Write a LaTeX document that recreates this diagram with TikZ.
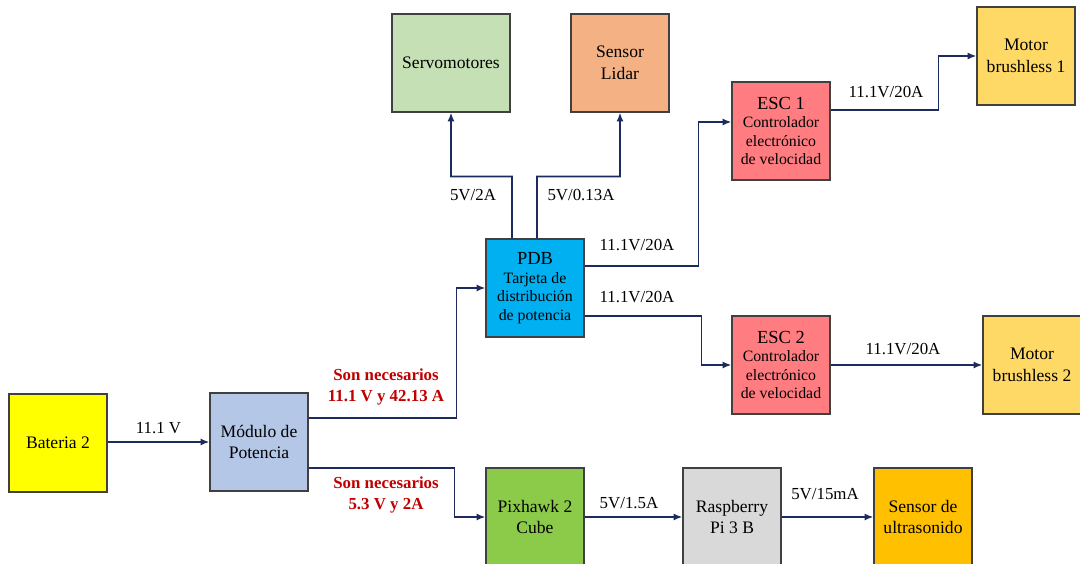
\documentclass[tikz,border=0pt]{standalone}
\usepackage{fontspec}
\setmainfont{Liberation Serif}
\usetikzlibrary{arrows.meta}

\definecolor{wire}{HTML}{1C2A5E}
\definecolor{reqred}{HTML}{C00000}
\definecolor{batfill}{HTML}{FFFF00}
\definecolor{modfill}{HTML}{B4C7E7}
\definecolor{pdbfill}{HTML}{00B0F0}
\definecolor{servofill}{HTML}{C5E0B4}
\definecolor{lidarfill}{HTML}{F4B183}
\definecolor{escfill}{HTML}{FF7C80}
\definecolor{motfill}{HTML}{FFD966}
\definecolor{pixfill}{HTML}{8CCB4A}
\definecolor{rpifill}{HTML}{D9D9D9}
\definecolor{usfill}{HTML}{FFC000}

\newcommand{\headtxt}[1]{{\fontsize{10.5}{10.5}\selectfont #1}}

\begin{document}
\begin{tikzpicture}[x=0.02cm,y=-0.02cm,
  blk/.style={draw=black!75,line width=0.6pt,minimum width=1.96cm,minimum height=1.96cm,
    align=center,inner sep=1pt,font=\fontsize{10}{12.4}\selectfont},
  wideblk/.style={blk,minimum width=2.36cm},
  ctlblk/.style={blk,font=\fontsize{9}{10.6}\selectfont},
  pwr/.style={draw=wire,line width=1.1pt,-{Latex[length=5pt,width=4pt]}},
  lbl/.style={font=\fontsize{9.6}{11.5}\selectfont,inner sep=1pt},
  req/.style={font=\bfseries\fontsize{9.6}{11.5}\selectfont,text=reqred,align=center,inner sep=1pt}]
\useasboundingbox (0,0) rectangle (1080,564);

% Power source and power module
\node[blk,fill=batfill] (bat) at (58,443) {Bateria 2};
\node[blk,fill=modfill] (mod) at (259,442) {Módulo de\\Potencia};

% Distribution board and its loads
\node[ctlblk,fill=pdbfill] (pdb) at (535,288) {\headtxt{PDB}\\Tarjeta de\\distribución\\de potencia};
\node[wideblk,fill=servofill] (servo) at (451,63) {Servomotores};
\node[blk,fill=lidarfill] (lidar) at (620,63) {Sensor\\Lidar};

% Speed controllers and motors
\node[ctlblk,fill=escfill] (esc1) at (781,131) {\headtxt{ESC 1}\\Controlador\\electrónico\\de velocidad};
\node[ctlblk,fill=escfill] (esc2) at (781,365) {\headtxt{ESC 2}\\Controlador\\electrónico\\de velocidad};
\node[blk,fill=motfill] (mot1) at (1026,56) {Motor\\brushless 1};
\node[blk,fill=motfill] (mot2) at (1032,365) {Motor\\brushless 2};

% Flight controller chain
\node[blk,fill=pixfill] (pix) at (535,517) {Pixhawk 2\\Cube};
\node[blk,fill=rpifill] (rpi) at (732,517) {Raspberry\\Pi 3 B};
\node[blk,fill=usfill] (us) at (923,517) {Sensor de\\ultrasonido};

% Connections
\draw[pwr] (bat.east |- mod.east) -- (mod.west) node[lbl,midway,above=3pt] {11.1 V};
\draw[pwr] ([yshift=0.48cm]mod.east) -- ++(148,0) |- (pdb.west);
\draw[pwr] ([yshift=-0.52cm]mod.east) -- ++(146,0) |- (pix.west);
\draw[pwr] ([xshift=-0.46cm]pdb.north) |- ++(-61,-62) -- (servo.south);
\draw[pwr] ([xshift=0.04cm]pdb.north) |- ++(83,-62) -- (lidar.south);
\draw[pwr] ([yshift=0.44cm]pdb.east) -- ++(114,0) |- ([yshift=0.18cm]esc1.west);
\draw[pwr] ([yshift=-0.56cm]pdb.east) -- ++(117,0) |- (esc2.west);
\draw[pwr] ([yshift=0.42cm]esc1.east) -- ++(108,0) |- (mot1.west);
\draw[pwr] (esc2.east) -- (mot2.west);
\draw[pwr] (pix.east) -- (rpi.west);
\draw[pwr] (rpi.east) -- (us.west);

% Labels
\node[req] (reqa) at (386,387) {Son necesarios\\11.1 V y 42.13 A};
\node[req] (reqb) at (386,495) {Son necesarios\\5.3 V y 2A};
\node[lbl] (l1) at (473,195) {5V/2A};
\node[lbl] (l2) at (581,195) {5V/0.13A};
\node[lbl] (l3) at (637,245) {11.1V/20A};
\node[lbl] (l4) at (637,297) {11.1V/20A};
\node[lbl] (l5) at (886,92) {11.1V/20A};
\node[lbl] (l6) at (903,349) {11.1V/20A};
\node[lbl] (l7) at (629,503) {5V/1.5A};
\node[lbl] (l8) at (825,494) {5V/15mA};
\end{tikzpicture}
\end{document}
